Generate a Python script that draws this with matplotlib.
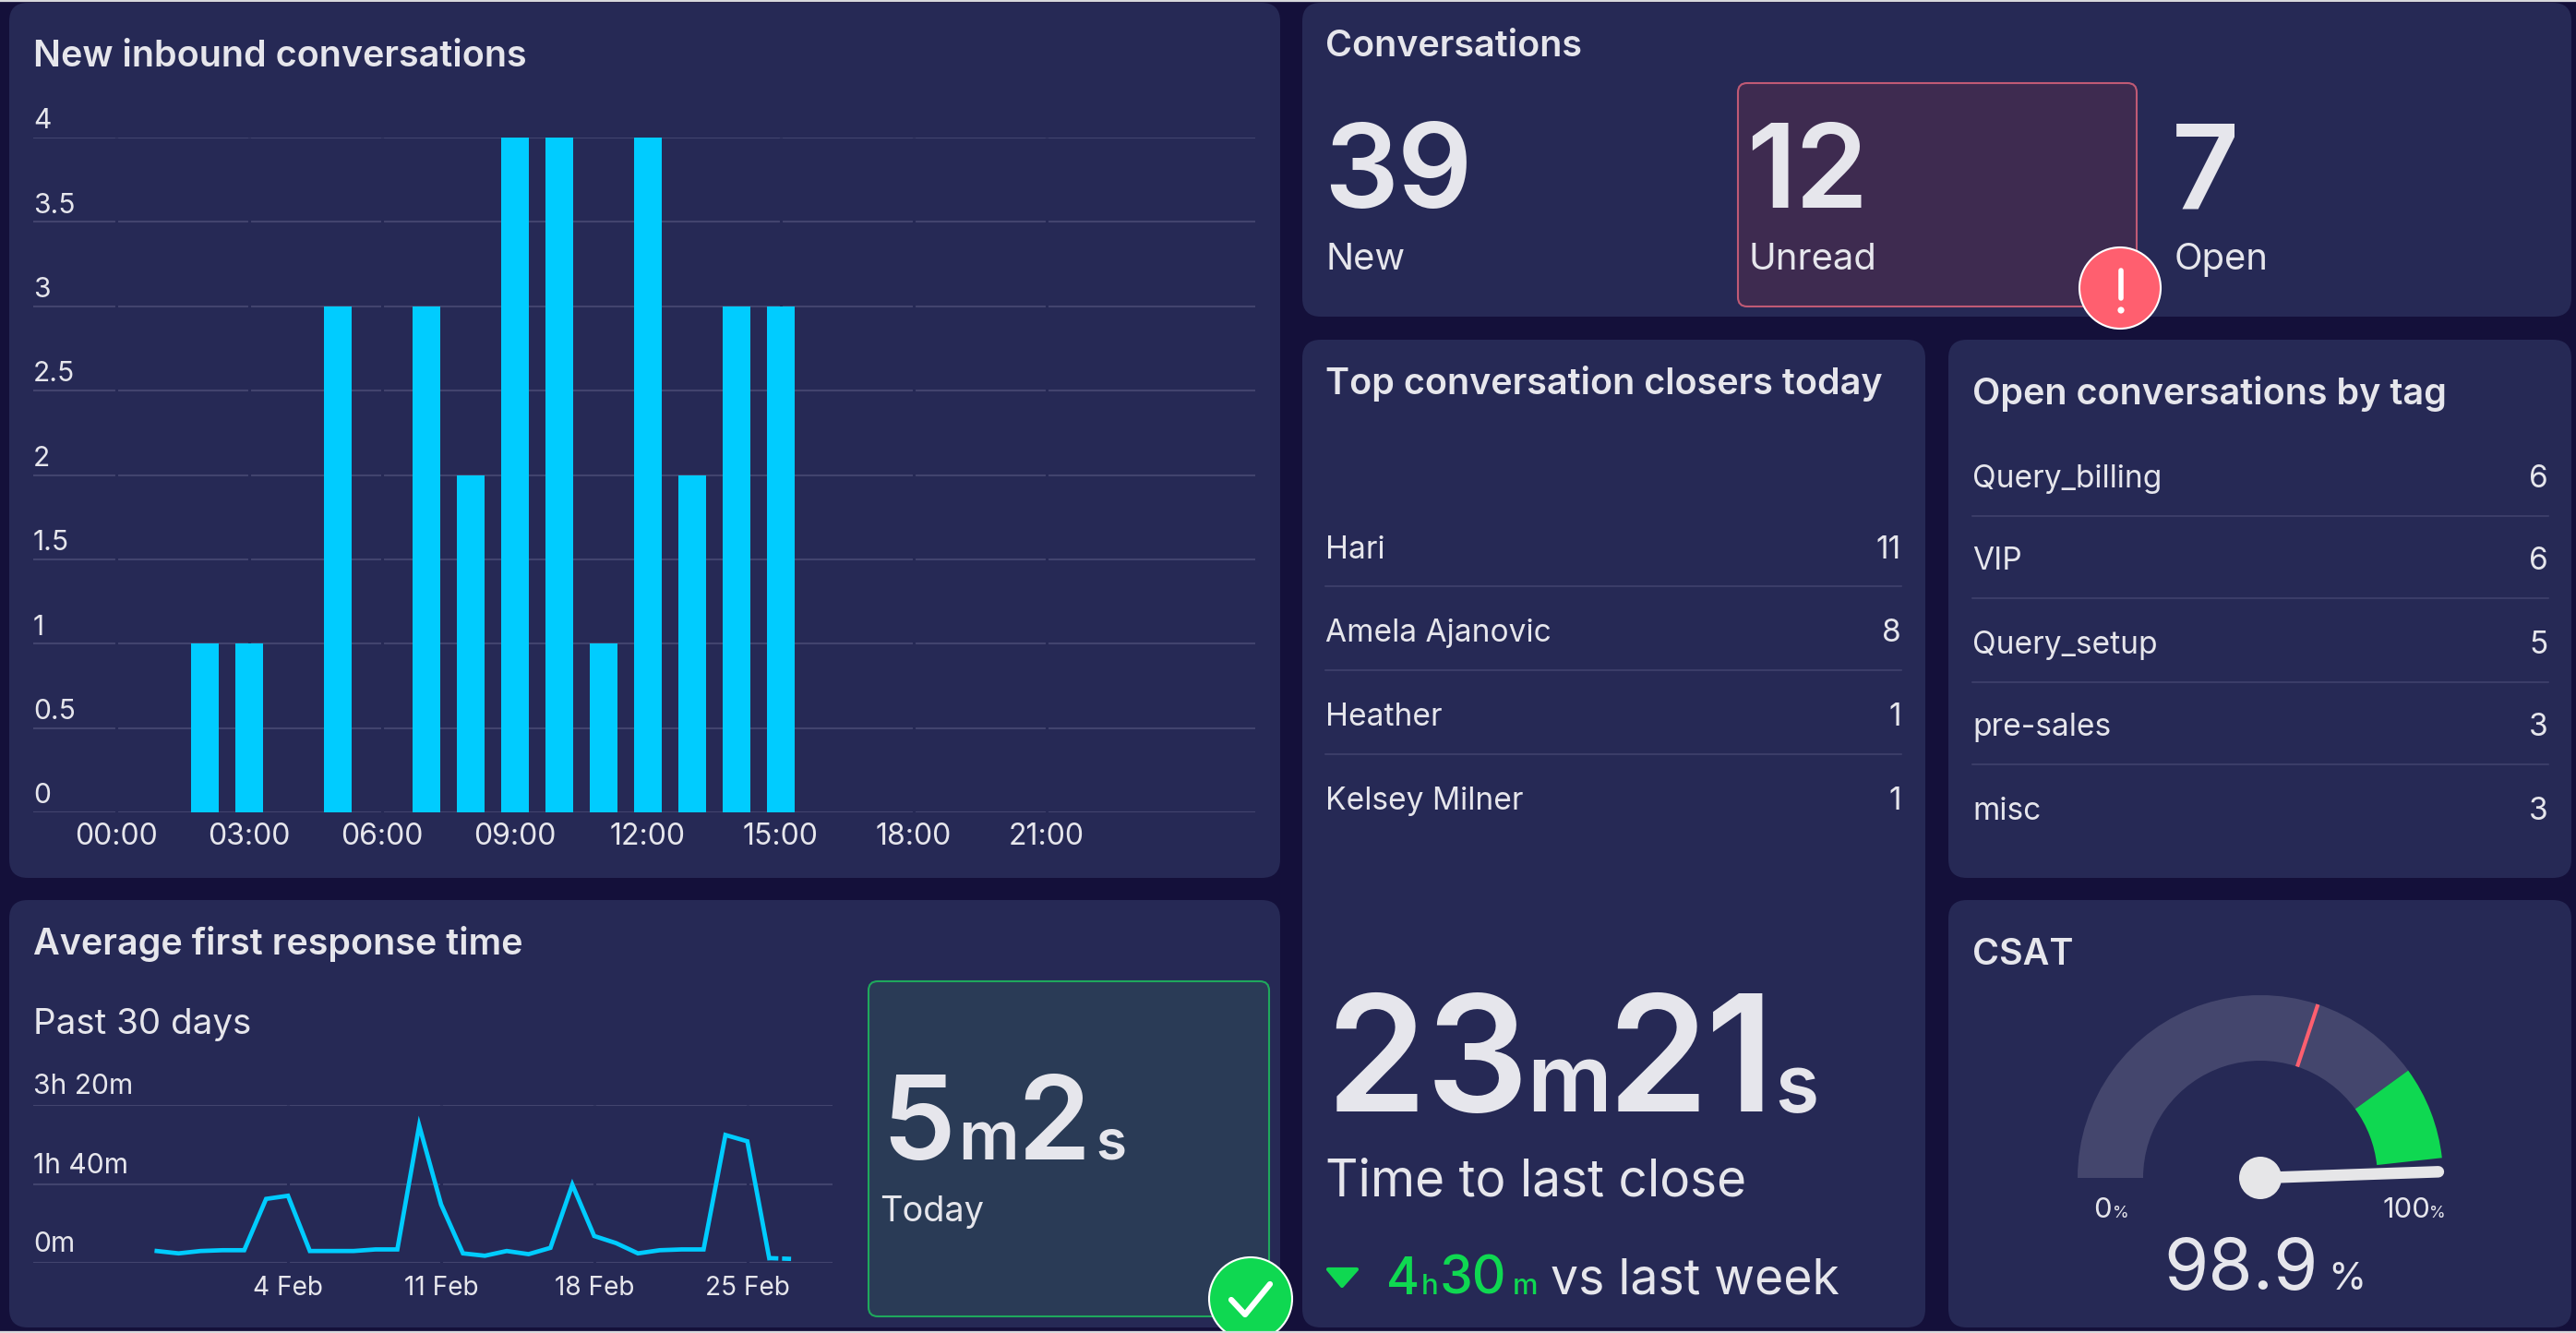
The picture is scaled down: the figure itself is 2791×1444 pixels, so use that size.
import numpy as np
import pandas as pd
import matplotlib
matplotlib.use('Agg')
import matplotlib.pyplot as plt
import matplotlib.dates as mdates
from matplotlib.patches import FancyBboxPatch, Circle, Wedge, Polygon

W, H = 2791, 1444

BG = '#14103a'
PANEL = '#262955'
GRID = '#42446e'
TEXT = '#e6e6ec'
CYAN = '#00ccff'
GREEN = '#0fd851'
RED = '#ff5f6f'
GAUGE = '#44466d'

plt.rcParams['font.family'] = ['Inter', 'DejaVu Sans']

###############
## DATA ##
###############

hours = [2, 3, 5, 7, 8, 9, 10, 11, 12, 13, 14, 15]
inbound = [1, 1, 3, 3, 2, 4, 4, 1, 4, 2, 3, 3]
hour_ticks = [0, 3, 6, 9, 12, 15, 18, 21]
hour_labels = ['00:00', '03:00', '06:00', '09:00', '12:00', '15:00', '18:00', '21:00']
inbound_ticks = [0, 0.5, 1, 1.5, 2, 2.5, 3, 3.5, 4]
inbound_labels = ['0', '0.5', '1', '1.5', '2', '2.5', '3', '3.5', '4']

days = pd.date_range('2024-01-29', periods=30)
response_mins = [15, 12, 15, 16, 16, 81, 85, 15, 15, 15, 17, 17, 174, 74, 12,
                 9, 15, 11, 19, 99, 34, 25, 12, 16, 17, 17, 162, 154, 6, 5]
response_ticks = [0, 100, 200]
response_labels = ['0m', '1h 40m', '3h 20m']
date_ticks = pd.to_datetime(['2024-02-04', '2024-02-11', '2024-02-18', '2024-02-25'])
date_labels = ['4 Feb', '11 Feb', '18 Feb', '25 Feb']

conv_counts = ['39', '12', '7']
conv_labels = ['New', 'Unread', 'Open']

closers = ['Hari', 'Amela Ajanovic', 'Heather', 'Kelsey Milner']
closer_counts = [11, 8, 1, 1]

tags = ['Query_billing', 'VIP', 'Query_setup', 'pre-sales', 'misc']
tag_counts = [6, 6, 5, 3, 3]

csat = 98.9
csat_target = 60.2
csat_green = (80, 96.5)


#############
## HELPERS ##
#############

fig = plt.figure(figsize=(W/100, H/100), dpi=100, facecolor=BG)
base = fig.add_axes([0, 0, 1, 1], zorder=0)
base.set_xlim(0, W)
base.set_ylim(H, 0)
base.axis('off')


def px_axes(x0, y0, x1, y1):
    ax = fig.add_axes([x0/W, 1 - y1/H, (x1 - x0)/W, (y1 - y0)/H], zorder=2)
    ax.patch.set_alpha(0)
    for s in ax.spines.values():
        s.set_visible(False)
    return ax


def box(x0, y0, x1, y1, fc, ec='none', lw=0, r=20, z=1):
    base.add_patch(FancyBboxPatch((x0 + r, y0 + r), x1 - x0 - 2*r, y1 - y0 - 2*r,
                                  boxstyle=f'round,pad={r},rounding_size={r}',
                                  fc=fc, ec=ec, lw=lw, zorder=z))


def txt(x, y, s, px=30, weight='normal', color=TEXT, ha='left'):
    # y is the baseline, px the font size in pixels
    base.text(x, y, s, fontsize=px*0.72, fontweight=weight, color=color, ha=ha, va='baseline', zorder=6)


def title(x, y, s):
    txt(x, y, s, px=39.5, weight='semibold')


def style_axis(ax, labels, ticks, size=30, lift=7):
    # y labels sit above their grid line, left aligned on the axis start
    ax.set_yticks(ticks)
    ax.set_yticklabels([])
    ax.tick_params(length=0)
    ax.grid(axis='y', color=GRID, lw=1.5, zorder=0)
    ax.set_axisbelow(True)
    for t, s in zip(ticks, labels):
        ax.annotate(s, (0, t), xycoords=ax.get_yaxis_transform(), xytext=(0, lift), textcoords='offset points',
                    fontsize=size*0.72, color=TEXT, ha='left', va='baseline')


def rows(names, values, x0, x1, ys, seps):
    for name, val, y in zip(names, values, ys):
        txt(x0, y + 12, name, px=33.5)
        txt(x1, y + 12, str(val), px=33.5, ha='right')
    for y in seps:
        base.plot([x0, x1], [y, y], color=GRID, lw=1.1, zorder=2)


############
## PANELS ##
############

base.plot([0, W], [1, 1], color='#d8d8dc', lw=1.6, zorder=8)
base.plot([0, W], [H - 1, H - 1], color='#d8d8dc', lw=1.6, zorder=8)

for x0, y0, x1, y1 in [(10, 3, 1387, 951), (10, 975, 1387, 1438), (1411, 3, 2786, 343),
                       (1411, 368, 2086, 1438), (2111, 368, 2786, 951), (2111, 975, 2786, 1438)]:
    box(x0, y0, x1, y1, PANEL)

# New inbound conversations
title(36, 72, 'New inbound conversations')
ax = px_axes(36, 149, 1360, 880)
ax.bar(hours, inbound, width=0.62, color=CYAN, zorder=3)
ax.set_xlim(-1.875, 25.71)
ax.set_ylim(0, 4)
style_axis(ax, inbound_labels, inbound_ticks)
ax.set_xticks(hour_ticks)
ax.set_xticklabels(hour_labels, fontsize=32*0.72, color=TEXT)
ax.tick_params(axis='x', pad=8)
ax.vlines(hour_ticks, 0, 4, color=PANEL, lw=2.2, zorder=2)

# Average first response time
title(36, 1034, 'Average first response time')
txt(36, 1120, 'Past 30 days', px=38.5)
ax = px_axes(36, 1197, 902, 1368)
ax.plot(days[:-1], response_mins[:-1], color=CYAN, lw=3.4, zorder=3, solid_joinstyle='miter')
ax.plot(days[-2:], response_mins[-2:], color=CYAN, lw=3.4, zorder=3, dashes=(2.1, 0.85), dash_capstyle='butt')
x_left = mdates.date2num(date_ticks[0]) - (312 - 36)/23.7
x_right = mdates.date2num(date_ticks[0]) + (902 - 312)/23.7
ax.set_xlim(x_left, x_right)
ax.set_ylim(0, 200)
style_axis(ax, response_labels, response_ticks, lift=8.5)
ax.set_xticks(date_ticks)
ax.set_xticklabels(date_labels, fontsize=28*0.72, color=TEXT)
ax.tick_params(axis='x', pad=10)
ax.vlines(date_ticks, 0, 200, color=PANEL, lw=2.2, zorder=2)

box(941, 1063, 1375, 1426, '#2a3b56', ec='#1fa85c', lw=1.5, r=10, z=2)
txt(955, 1256, '5', px=127, weight='semibold')
txt(1038, 1256, 'm', px=73, weight='semibold')
txt(1102, 1256, '2', px=127, weight='semibold')
txt(1187, 1256, 's', px=60, weight='semibold')
txt(953, 1323, 'Today', px=38)
base.add_patch(Circle((1355, 1407), 45, fc=GREEN, ec='white', lw=1.5, zorder=5))
base.plot([1334, 1349, 1376], [1408, 1424, 1391], color='white', lw=4.5, zorder=6, solid_capstyle='round')

# Conversations
title(1436, 61, 'Conversations')
box(1883, 90, 2315, 332, '#3e2b50', ec='#c05a75', lw=1.5, r=10, z=2)
count_x = [[1434, 1514], [1892, 1944], [2353]]
for xs, n, lab in zip(count_x, conv_counts, conv_labels):
    for x, ch in zip(xs, n):
        txt(x, 225, ch, px=127, weight='semibold')
    txt(xs[0] + 3, 292, lab, px=40)
base.add_patch(Circle((2297, 312), 44, fc=RED, ec='white', lw=1.5, zorder=5))
base.plot([2298, 2298], [293, 323], color='white', lw=4, zorder=6, solid_capstyle='round')
base.add_patch(Circle((2298, 336), 3.6, fc='white', ec='none', zorder=6))

# Top conversation closers today
title(1436, 427, 'Top conversation closers today')
rows(closers, closer_counts, 1436, 2060, [593, 683, 774, 865], [635, 726, 817])
txt(1436, 1204, '23', px=175, weight='semibold')
txt(1654, 1204, 'm', px=102, weight='semibold')
txt(1741, 1204, '2', px=175, weight='semibold')
txt(1848, 1204, '1', px=175, weight='semibold')
txt(1923, 1204, 's', px=86, weight='semibold')
txt(1436, 1296, 'Time to last close', px=55)
base.add_patch(Polygon([[1439, 1375], [1470, 1375], [1454, 1393]], fc=GREEN, ec=GREEN, lw=3, joinstyle='round', zorder=5))
txt(1502, 1402, '4', px=55, weight='medium', color=GREEN)
txt(1540, 1402, 'h', px=31, weight='medium', color=GREEN)
txt(1560, 1402, '30', px=57, weight='medium', color=GREEN)
txt(1639, 1402, 'm', px=31, weight='medium', color=GREEN)
txt(1680, 1402, 'vs last week', px=53.5)

# Open conversations by tag
title(2137, 438, 'Open conversations by tag')
rows(tags, tag_counts, 2137, 2761, [516, 605, 696, 785, 876], [559, 648, 739, 828])

# CSAT
title(2137, 1045, 'CSAT')
ax = px_axes(2219, 1046, 2679, 1336)
ax.set_xlim(-230, 230)
ax.set_ylim(-60, 230)
ax.axis('off')


def pct_angle(p):
    return 180 - p*1.8


ro, ri = 198, 127
ax.add_patch(Wedge((0, 0), ro, pct_angle(csat_green[0]), 180, width=ro - ri, fc=GAUGE, ec='none'))
ax.add_patch(Wedge((0, 0), ro, pct_angle(csat_green[1]), pct_angle(csat_green[0]), width=ro - ri, fc=GREEN, ec='none'))
a = np.radians(pct_angle(csat_target))
ax.plot([ri*np.cos(a), ro*np.cos(a)], [ri*np.sin(a), ro*np.sin(a)], color=RED, lw=3, solid_capstyle='butt')
a = np.radians(pct_angle(csat))
ax.plot([0, 193*np.cos(a)], [0, 193*np.sin(a)], color='#e6e6e8', lw=9, solid_capstyle='round')
ax.add_patch(Circle((0, 0), 23, fc='#e6e6e8', ec='none'))

txt(2268, 1319, '0', px=31)
txt(2289, 1319, '%', px=18)
txt(2582, 1319, '100', px=31)
txt(2632, 1319, '%', px=18)
txt(2344, 1397, '98.9', px=78)
txt(2522, 1397, '%', px=42)

fig.savefig('out.png', dpi=100, facecolor=BG)
